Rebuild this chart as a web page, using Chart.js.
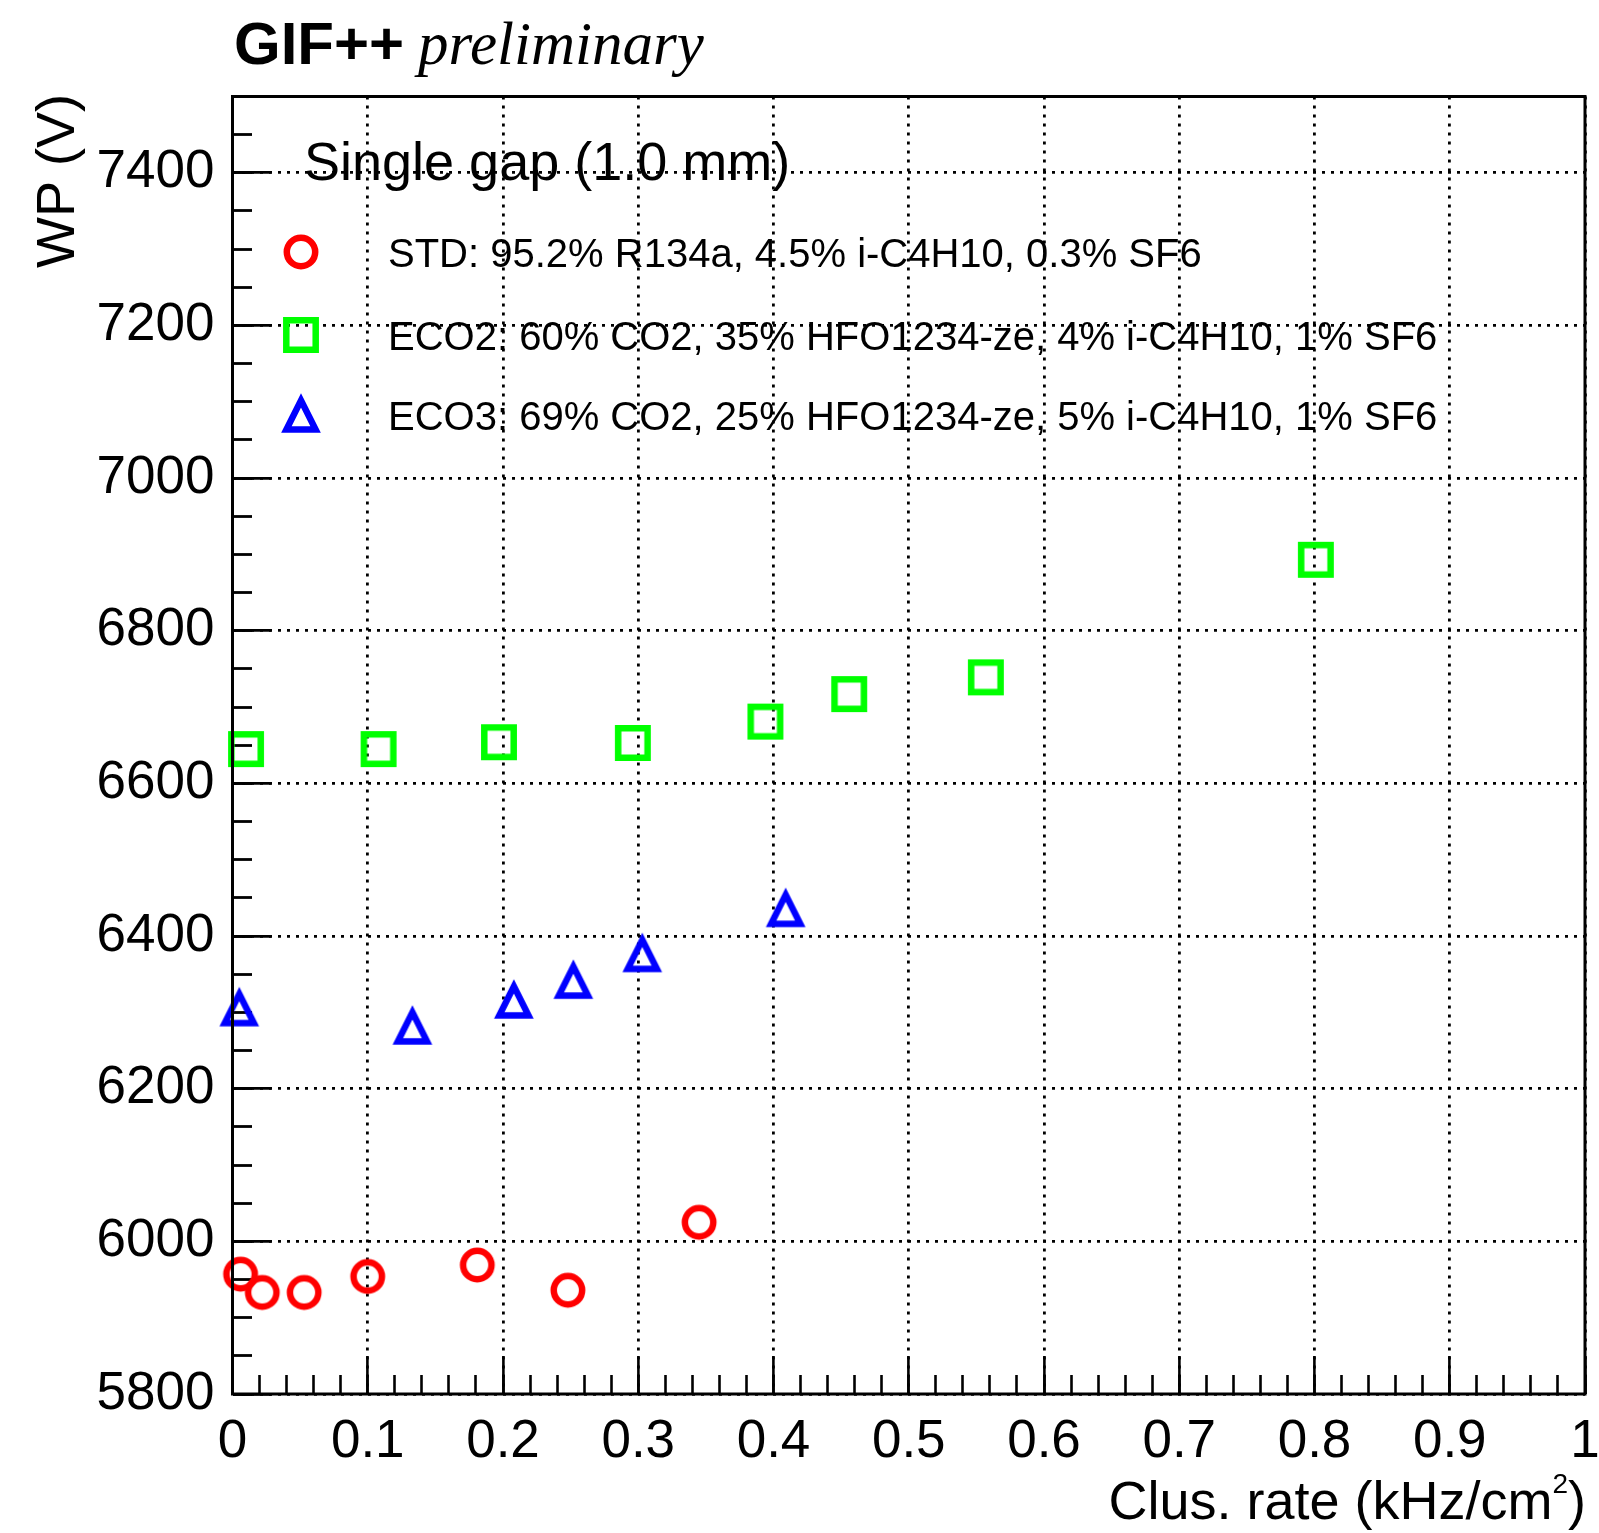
<!DOCTYPE html>
<html>
<head>
<meta charset="utf-8">
<script src="https://cdn.jsdelivr.net/npm/chart.js@4.4.1/dist/chart.umd.min.js"></script>
<style>
  html, body { margin: 0; padding: 0; background: #fff; }
  canvas { display: block; }
</style>
</head>
<body>
<canvas id="wpChart" width="1599" height="1533"></canvas>
<script>
// Data: cluster rate (kHz/cm2) vs working point (V)
const stdRate  = [0.006, 0.022, 0.053, 0.100, 0.181, 0.248, 0.345];
const stdWP    = [5957, 5933, 5933, 5954, 5969, 5936, 6025];
const eco2Rate = [0.010, 0.108, 0.197, 0.296, 0.394, 0.456, 0.557, 0.801];
const eco2WP   = [6645, 6645, 6654, 6653, 6681, 6717, 6739, 6893];
const eco3Rate = [0.005, 0.133, 0.208, 0.252, 0.303, 0.409];
const eco3WP   = [6305, 6281, 6315, 6341, 6376, 6435];

const seriesLabels = [
    'STD: 95.2% R134a, 4.5% i-C4H10, 0.3% SF6',
    'ECO2: 60% CO2, 35% HFO1234-ze, 4% i-C4H10, 1% SF6',
    'ECO3: 69% CO2, 25% HFO1234-ze, 5% i-C4H10, 1% SF6'
];
const legendHeader = 'Single gap (1.0 mm)';

const xMin = 0, xMax = 1, xStep = 0.1, xMinorStep = 0.02;
const yMin = 5800, yMax = 7500, yStep = 200, yMinorStep = 50;

const FONT = '"Liberation Sans", Arial, Helvetica, sans-serif';

// ROOT-like open markers drawn on small canvases
function makeMarker(kind, color) {
    const c = document.createElement('canvas');
    c.width = 48; c.height = 48;
    const g = c.getContext('2d');
    g.strokeStyle = color;
    g.lineWidth = 6.5;
    g.lineJoin = 'miter';
    g.beginPath();
    if (kind === 'circle') {
        g.arc(24, 24, 14.2, 0, Math.PI * 2);
    } else if (kind === 'square') {
        g.rect(24 - 14.7, 24 - 14.7, 29.4, 29.4);
    } else {
        const r = 14.6;
        g.moveTo(24, 24 - r);
        g.lineTo(24 + r, 24 + r);
        g.lineTo(24 - r, 24 + r);
        g.closePath();
    }
    g.stroke();
    return c;
}

const markers = [
    makeMarker('circle', '#ff0000'),
    makeMarker('square', '#00ff00'),
    makeMarker('triangle', '#0000ff')
];

function toPoints(xs, ys) {
    return xs.map((x, i) => ({ x: x, y: ys[i] }));
}

// no extra room for overflowing tick labels
function noPad(s) {
    s.paddingLeft = 0; s.paddingRight = 0;
    s.paddingTop = 0; s.paddingBottom = 0;
}

// frame, titles and legend
const overlayPlugin = {
    id: 'overlay',
    afterDraw(chart) {
        const ctx = chart.ctx;
        const a = chart.chartArea;
        ctx.save();
        ctx.strokeStyle = '#000';
        ctx.lineWidth = 3;
        ctx.strokeRect(a.left, a.top, a.right - a.left, a.bottom - a.top);

        ctx.fillStyle = '#000';
        ctx.textBaseline = 'alphabetic';
        ctx.textAlign = 'left';
        ctx.font = 'bold 60px ' + FONT;
        ctx.fillText('GIF++', 234, 64);
        ctx.font = 'italic 61px "Liberation Serif", "Times New Roman", serif';
        ctx.fillText('preliminary', 418, 64);

        // y title
        ctx.save();
        ctx.translate(74, 94);
        ctx.rotate(-Math.PI / 2);
        ctx.textAlign = 'right';
        ctx.font = '54px ' + FONT;
        ctx.fillText('WP (V)', 0, 0);
        ctx.restore();

        // x title with superscript
        const mainPart = 'Clus. rate (kHz/cm';
        ctx.font = '54px ' + FONT;
        const w1 = ctx.measureText(mainPart).width;
        const w3 = ctx.measureText(')').width;
        ctx.font = '28px ' + FONT;
        const w2 = ctx.measureText('2').width;
        let x0 = 1586 - (w1 + w2 + w3);
        ctx.font = '54px ' + FONT;
        ctx.fillText(mainPart, x0, 1519);
        ctx.font = '28px ' + FONT;
        ctx.fillText('2', x0 + w1, 1493);
        ctx.font = '54px ' + FONT;
        ctx.fillText(')', x0 + w1 + w2, 1519);

        // legend
        ctx.font = '54px ' + FONT;
        ctx.fillText(legendHeader, 304, 180);
        const rowY = [252, 335, 415];
        ctx.font = '40px ' + FONT;
        seriesLabels.forEach((label, i) => {
            const m = markers[i];
            ctx.drawImage(m, 301 - m.width / 2, rowY[i] - m.height / 2);
            ctx.fillText(label, 388, rowY[i] + 15);
        });
        ctx.restore();
    }
};

const tickFont = { family: FONT, size: 53 };

new Chart(document.getElementById('wpChart'), {
    type: 'scatter',
    data: {
        datasets: [
            { label: seriesLabels[0], data: toPoints(stdRate, stdWP), pointStyle: markers[0], pointRadius: 20, clip: false },
            { label: seriesLabels[1], data: toPoints(eco2Rate, eco2WP), pointStyle: markers[1], pointRadius: 20, clip: false },
            { label: seriesLabels[2], data: toPoints(eco3Rate, eco3WP), pointStyle: markers[2], pointRadius: 20, clip: false }
        ]
    },
    options: {
        responsive: false,
        animation: false,
        events: [],
        layout: { autoPadding: false, padding: { left: 0, right: 14, top: 96.5, bottom: 0 } },
        plugins: { legend: { display: false }, tooltip: { enabled: false } },
        scales: {
            x: {
                type: 'linear', position: 'bottom', weight: 1,
                min: xMin, max: xMax,
                ticks: {
                    stepSize: xStep, autoSkip: false, maxRotation: 0,
                    padding: 55, color: '#000', font: tickFont,
                    callback: v => String(Math.round(v * 10) / 10)
                },
                grid: { color: '#000', lineWidth: 2.8, tickLength: -38, tickColor: '#000', tickWidth: 2.6 },
                border: { display: false, dash: [3, 6] },
                afterFit: s => { s.height = 139; noPad(s); }
            },
            xMinor: {
                type: 'linear', position: 'bottom', weight: 0,
                min: xMin, max: xMax,
                ticks: { stepSize: xMinorStep, display: false },
                grid: { drawOnChartArea: false, tickLength: -19, tickColor: '#000', tickWidth: 2.6 },
                border: { display: false },
                afterFit: s => { s.height = 0; noPad(s); }
            },
            y: {
                type: 'linear', position: 'left', weight: 1,
                min: yMin, max: yMax,
                ticks: {
                    stepSize: yStep, autoSkip: false, includeBounds: false,
                    padding: 57, color: '#000', font: tickFont,
                    callback: v => String(v)
                },
                grid: { color: '#000', lineWidth: 2.8, tickLength: -39, tickColor: '#000', tickWidth: 2.8 },
                border: { display: false, dash: [3, 6] },
                afterFit: s => { s.width = 232.5; noPad(s); }
            },
            yMinor: {
                type: 'linear', position: 'left', weight: 0,
                min: yMin, max: yMax,
                ticks: { stepSize: yMinorStep, display: false },
                grid: { drawOnChartArea: false, tickLength: -19.5, tickColor: '#000', tickWidth: 2.8 },
                border: { display: false },
                afterFit: s => { s.width = 0; noPad(s); }
            }
        }
    },
    plugins: [overlayPlugin]
});
</script>
</body>
</html>
